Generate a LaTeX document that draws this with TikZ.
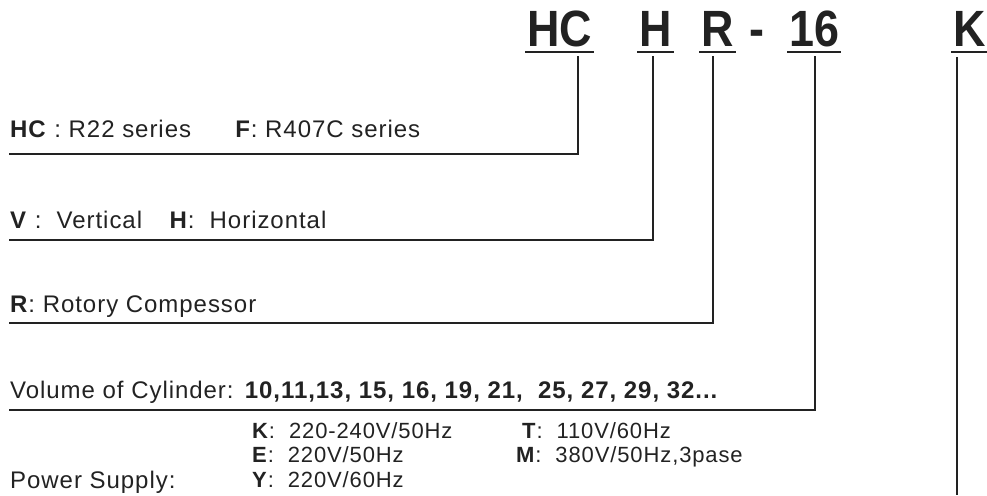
\documentclass[tikz,border=0pt]{standalone}
\usepackage{fontspec}
\setmainfont{Liberation Sans}
\newfontfamily\codefont[FakeStretch=0.88]{Liberation Sans}
\newfontfamily\labelfont[LetterSpace=4]{Liberation Sans}
\usepackage{xcolor}
\usepackage{tikz}
\usetikzlibrary{positioning,calc}
\definecolor{ink}{HTML}{222222}

\begin{document}
\begin{tikzpicture}[
  x=1pt,y=-1pt,
  code/.style={inner sep=0pt,anchor=base west,text=ink,
               font=\codefont\fontsize{51}{51}\selectfont\bfseries},
  item/.style={inner sep=0pt,anchor=base west,text=ink,
               font=\labelfont\fontsize{24}{24}\selectfont},
  sub/.style={inner sep=0pt,anchor=base west,text=ink,
              font=\labelfont\fontsize{22}{22}\selectfont},
  lead/.style={draw=ink,line width=2.4pt,line cap=rect},
  uline/.style={draw=ink,line width=2.2pt}
]
\useasboundingbox (0,0) rectangle (987,495);

% model code
\node[code] (hc) at (527,47) {HC};
\node[code] (h) at (639,47) {H};
\node[code] (r) at (701,47) {R};
\node[code] (dash) at (749,47) {-};
\node[code] (num) at (789,47) {16};
\node[code] (k) at (953,47) {K};

\foreach \n in {hc,h,r,num,k}
  \draw[uline] ([xshift=-2pt,yshift=-5pt]\n.base west) -- ([xshift=2pt,yshift=-5pt]\n.base east);

% meanings
\node[item] (series) at (10,137) {\textbf{HC} : R22 series\hspace{1.8em}\textbf{F}: R407C series};
\node[item] (mount) at (10,228) {\textbf{V} :\ \ Vertical\hspace{1.1em}\textbf{H}:\ \ Horizontal};
\node[item] (comp) at (10,312) {\textbf{R}: Rotory Compessor};
\node[item] (vol) at (10,398) {Volume of Cylinder: \textbf{10,11,13, 15, 16, 19, 21,\ \ 25, 27, 29, 32...}};

\node[item] (psu) at (10,488) {Power Supply:};
\node[sub] (pk) at (252,438) {\textbf{K}:\ \ 220-240V/50Hz};
\node[sub] (pe) at (252,462) {\textbf{E}:\ \ 220V/50Hz};
\node[sub] (py) at (252,487) {\textbf{Y}:\ \ 220V/60Hz};
\node[sub] (pt) at (522,438) {\textbf{T}:\ \ 110V/60Hz};
\node[sub] (pm) at (516,462) {\textbf{M}:\ \ 380V/50Hz,3pase};

% leader lines
\coordinate (hcTop) at (578,57);
\coordinate (hTop) at (653,57);
\coordinate (rTop) at (713,57);
\coordinate (numTop) at (815,57);
\coordinate (kTop) at (957,57);
\coordinate (hcEnd) at (10,154);
\coordinate (hEnd) at (10,240);
\coordinate (rEnd) at (10,323);
\coordinate (numEnd) at (10,410);
\coordinate (kEnd) at (957,495);

\draw[lead] (hcTop) |- (hcEnd);
\draw[lead] (hTop) |- (hEnd);
\draw[lead] (rTop) |- (rEnd);
\draw[lead] (numTop) |- (numEnd);
\draw[lead,line cap=butt] (kTop) -- (kEnd);
\end{tikzpicture}
\end{document}
